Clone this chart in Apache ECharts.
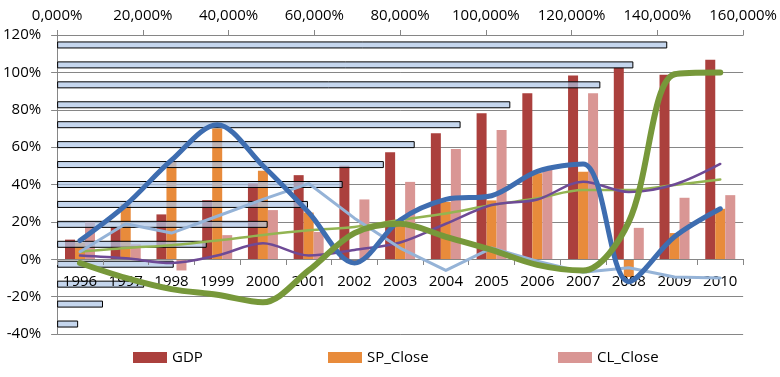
<!DOCTYPE html>
<html>
<head>
<meta charset="utf-8">
<script src="https://cdn.jsdelivr.net/npm/echarts@6/dist/echarts.min.js"></script>
<style>
html,body{margin:0;padding:0;background:#fff;}
#chart{width:780px;height:377px;}
</style>
</head>
<body>
<div id="chart"></div>
<script>
// Categories
var years = ['1996','1997','1998','1999','2000','2001','2002','2003','2004','2005','2006','2007','2008','2009','2010'];
// Column series (% values, left axis)
var gdp     = [10.5, 17.3, 24, 31.6, 40.6, 45, 50, 57.3, 67.4, 78.1, 88.8, 98.3, 102.6, 98.7, 106.7];
var spClose = [9, 29.5, 52.5, 70, 47.4, 25, -1, 18, 30.7, 31.5, 46, 46.8, -9.5, 14, 27];
var clClose = [20, 8, -6, 12.9, 26.3, 14.6, 32, 41.4, 59, 69.2, 47.7, 88.8, 16.8, 32.9, 34.3];
// Line series (% values, left axis)
var lineBlue       = [10, 29, 53, 72, 50, 25, -2, 21, 32, 34, 47, 51, -12, 12, 27];
var lineGreen      = [-2, -10, -16, -19, -23, -6, 14, 19, 12, 5, -3, -6, 20, 99, 100];
var lineLightBlue  = [4, 19, 14, 23, 32, 40.5, 22, 6, -6, 6, -1, -7, -4.5, -9.5, -10];
var linePurple     = [2, 0.5, -2, 2, 8.5, 2, 5, 9, 19, 29, 32, 41.5, 36, 40, 51];
var lineLightGreen = [4, 6, 7.5, 10, 13, 15.5, 17.3, 21, 24.5, 29, 32.6, 37, 37, 39.7, 42.7];
// Horizontal bars (secondary axes, top value axis in %), bottom to top
var hBars = [4.9, 10.7, 20.3, 27.2, 34.9, 49.1, 58.5, 66.6, 76.2, 83.4, 94.1, 105.7, 126.7, 134.4, 142.3];
// Tick settings
var leftMin = -40, leftMax = 120, leftStep = 20;
var topMin = 0, topMax = 160, topStep = 20;

var FONT = 'Open Sans';
var chart = echarts.init(document.getElementById('chart'), null, {renderer:'canvas'});
var gridColor = '#868686';
var gridTop = 35, gridHeight = 299;
// place the category axis on the 0 line of the left axis
var zeroOffset = -Math.round(gridHeight * (0 - leftMin) / (leftMax - leftMin));

function lineSeries(name, data, color, width, smooth, z){
  return {name:name, type:'line', data:data, xAxisIndex:0, yAxisIndex:0,
    smooth:smooth, symbol:'none', z:z,
    lineStyle:{color:color, width:width, cap:'round', join:'round'},
    itemStyle:{color:color}};
}
function legendItem(name, left){
  return {data:[name], left:left, top:350, padding:0, icon:'rect', itemWidth:34, itemHeight:11, itemGap:0,
    textStyle:{fontFamily:FONT, fontSize:15, color:'#000', padding:[0,0,0,0]}, selectedMode:false};
}

var option = {
  animation:false,
  backgroundColor:'#fff',
  grid:{left:57, top:gridTop, width:687, height:gridHeight, containLabel:false},
  legend:[legendItem('GDP',133), legendItem('SP_Close',328), legendItem('CL_Close',558)],
  xAxis:[
    {type:'category', data:years, position:'bottom', boundaryGap:true, offset:zeroOffset, z:4,
      axisLine:{onZero:false, lineStyle:{color:gridColor, width:1}},
      axisTick:{show:true, length:6, lineStyle:{color:gridColor}},
      axisLabel:{fontFamily:FONT, fontSize:15, color:'#000', margin:15, interval:0},
      splitLine:{show:false}},
    {type:'value', position:'top', min:topMin, max:topMax, interval:topStep,
      axisLine:{show:true, onZero:false, lineStyle:{color:gridColor}},
      axisTick:{show:true, length:5, lineStyle:{color:gridColor}},
      axisLabel:{fontFamily:FONT, fontSize:15, color:'#000', margin:12,
        formatter:function(v){return v.toFixed(3).replace('.',',')+'%';}},
      splitLine:{show:false}}
  ],
  yAxis:[
    {type:'value', min:leftMin, max:leftMax, interval:leftStep, position:'left',
      axisLine:{show:true, onZero:false, lineStyle:{color:gridColor}},
      axisTick:{show:true, length:6, lineStyle:{color:gridColor}},
      axisLabel:{fontFamily:FONT, fontSize:15, color:'#000', margin:16, formatter:'{value}%'},
      splitLine:{show:true, lineStyle:{color:gridColor, width:1}}},
    {type:'category', data:years, show:false, position:'right', boundaryGap:true,
      axisLine:{onZero:false}}
  ],
  series:[
    {name:'GDP', type:'bar', data:gdp, xAxisIndex:0, yAxisIndex:0, barWidth:10, barGap:'0%', z:2,
      itemStyle:{color:'#ab403d'}},
    {name:'SP_Close', type:'bar', data:spClose, xAxisIndex:0, yAxisIndex:0, barWidth:10, barGap:'0%', z:2,
      itemStyle:{color:'#e88b3b'}},
    {name:'CL_Close', type:'bar', data:clClose, xAxisIndex:0, yAxisIndex:0, barWidth:10, barGap:'0%', z:2,
      itemStyle:{color:'#d99694'}},
    {name:'Cum', type:'bar', data:hBars, xAxisIndex:1, yAxisIndex:1, barWidth:7, z:3,
      itemStyle:{color:'rgba(173,197,229,0.7)', borderColor:'#000', borderWidth:1}},
    lineSeries('L5', lineLightGreen, '#93b452', 2.5, 0.33, 5),
    lineSeries('L4', linePurple, '#6e4a96', 2.5, 0.33, 5),
    lineSeries('L3', lineLightBlue, '#95b3d7', 3, false, 5),
    lineSeries('L1', lineBlue, '#3e6db0', 5, 0.33, 6),
    lineSeries('L2', lineGreen, '#77983a', 6, 0.33, 6)
  ]
};
chart.setOption(option);
</script>
</body>
</html>
